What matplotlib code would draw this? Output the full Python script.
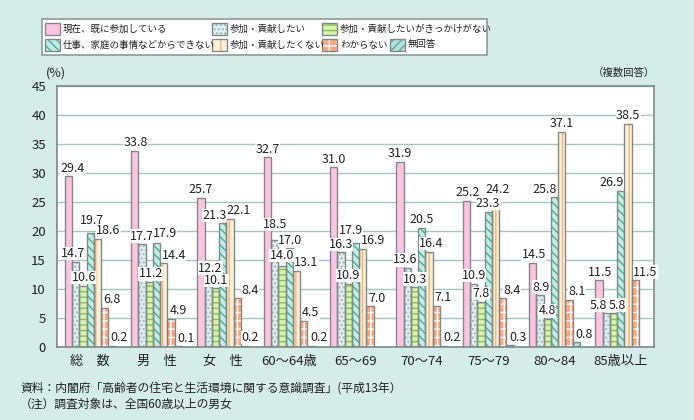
import numpy as np
import matplotlib
matplotlib.use('Agg')
import matplotlib.pyplot as plt
from matplotlib.patches import Rectangle

plt.rcParams['font.family'] = ['Noto Sans CJK JP', 'DejaVu Sans']
plt.rcParams['hatch.linewidth'] = 1.0

# ---- data ----
groups = ['総　数', '男　性', '女　性', '60～64歳', '65～69', '70～74', '75～79', '80～84', '85歳以上']
series_names = ['現在、既に参加している', '参加・貢献したい', '参加・貢献したいがきっかけがない',
                '仕事、家庭の事情などからできない', '参加・貢献したくない', 'わからない', '無回答']
already = [29.4, 33.8, 25.7, 32.7, 31.0, 31.9, 25.2, 14.5, 11.5]
want = [14.7, 17.7, 12.2, 18.5, 16.3, 13.6, 10.9, 8.9, 5.8]
no_chance = [10.6, 11.2, 10.1, 14.0, 10.9, 10.3, 7.8, 4.8, 5.8]
cannot = [19.7, 17.9, 21.3, 17.0, 17.9, 20.5, 23.3, 25.8, 26.9]
dont_want = [18.6, 14.4, 22.1, 13.1, 16.9, 16.4, 24.2, 37.1, 38.5]
dont_know = [6.8, 4.9, 8.4, 4.5, 7.0, 7.1, 8.4, 8.1, 11.5]
no_answer = [0.2, 0.1, 0.2, 0.2, np.nan, 0.2, 0.3, 0.8, np.nan]
values = [already, want, no_chance, cannot, dont_want, dont_know, no_answer]

# horizontal nudge of each value label in pixels (group x series), as in the original
label_dx = [
    [4.5, -2.5, 1, 1.5, 11, 7, 7],
    [1, 0, 1.5, 8, 10, 7, 8],
    [0, 2, 1, -8, 8.5, 13, 5],
    [0, 1, 0, 1, 10, 7, 8],
    [0, 0, 0, -5, 10, 7, 0],
    [0, -2, 1, 0, 2, 6.5, 8],
    [1, 0, 0, 0, 2, 9, 8],
    [1, 1, 0, -10, 0, 7.5, 7.5],
    [1, -7.5, 4, -9, 0, 10, 0],
]
# a few labels sit higher to clear their neighbours (group, series): pixels
label_dy = {(0, 3): 4, (1, 3): 2, (3, 1): 7, (3, 2): 2, (4, 3): 5, (6, 4): 9}

# face color, hatch, hatch color
styles = [
    ('#ffc4e0', '', '#ffc4e0'),
    ('#e0eeee', '....', '#98b8b8'),
    ('#d8f2b0', '---', '#88c058'),
    ('#c4ece2', '\\\\\\\\', '#48ac9c'),
    ('#fff0dc', '||', '#ffb070'),
    ('#ffa880', '++', '#ffffff'),
    ('#b8e0dc', '////', '#60a8a0'),
]
edge = '#808888'
bg = '#d5ede8'

W, H = 694, 420
fig = plt.figure(figsize=(W / 100, H / 100), dpi=100, facecolor=bg)
ax = fig.add_axes([57 / W, 1 - 347 / H, 597 / W, 261 / H])
ax.set_facecolor('white')

x = np.arange(len(groups))
bw = 0.11
for i, (vals, (fc, hatch, hc)) in enumerate(zip(values, styles)):
    pos = x + (i - 3) * bw
    v = np.array(vals, dtype=float)
    ax.bar(pos, v, bw, color=fc, hatch=hatch, edgecolor=hc, linewidth=0, zorder=2)
    ax.bar(pos, v, bw, fill=False, edgecolor=edge, linewidth=1.0, zorder=3)
    for g, (px, val) in enumerate(zip(pos, v)):
        if np.isnan(val):
            continue
        dy = 1.2 + label_dy.get((g, i), 0) * 0.72
        ax.annotate(f'{val:.1f}', (px, val), xytext=(label_dx[g][i] * 0.72, dy),
                    textcoords='offset points', ha='center', va='bottom',
                    fontsize=9, color='#202020', zorder=4,
                    bbox=dict(facecolor='white', edgecolor='none', pad=0.2))

ax.set_xlim(-0.5, len(groups) - 0.5)
ax.set_ylim(0, 45)
ax.set_yticks(np.arange(0, 46, 5))
ax.set_xticks(x)
ax.set_xticklabels(groups, fontsize=9.5)
ax.tick_params(axis='both', length=0, labelsize=9.5, colors='#202020')
ax.tick_params(axis='x', pad=6)
ax.tick_params(axis='y', pad=8)
ax.yaxis.grid(True, color='#a8c4c0', linewidth=1.0, zorder=0)
ax.set_axisbelow(True)
for s in ax.spines.values():
    s.set_color('#808888')
    s.set_linewidth(1.2)

fig.text(56 / W, 1 - 73 / H, '(%)', ha='center', va='center', fontsize=9, color='#202020')
fig.text(655 / W, 1 - 73 / H, '（複数回答）', ha='right', va='center', fontsize=7.5, color='#202020')

# ---- legend drawn by hand ----
def fx(p):
    return p / W

def fy(p):
    return 1 - p / H

fig.add_artist(Rectangle((fx(42), fy(55)), fx(445), 36 / H, transform=fig.transFigure,
                         facecolor='white', edgecolor='#909898', linewidth=1.2))
slots = [(45, 29), (212, 29), (322, 29), (45, 45), (212, 45), (322, 45), (390, 45)]
for (sx, sy), name, (fc, hatch, hc) in zip(slots, series_names, styles):
    fig.add_artist(Rectangle((fx(sx), fy(sy + 6)), 15 / W, 12 / H, transform=fig.transFigure,
                             facecolor=fc, hatch=hatch, edgecolor=hc, linewidth=0))
    fig.add_artist(Rectangle((fx(sx), fy(sy + 6)), 15 / W, 12 / H, transform=fig.transFigure,
                             fill=False, edgecolor=edge, linewidth=1.0))
    fig.text(fx(sx + 18), fy(sy), name, ha='left', va='center', fontsize=6.8, color='#202020')

fig.text(20 / W, 1 - 388 / H, '資料：内閣府「高齢者の住宅と生活環境に関する意識調査」(平成13年）',
         ha='left', va='center', fontsize=8.5, color='#202020')
fig.text(20 / W, 1 - 404 / H, '（注）調査対象は、全国60歳以上の男女',
         ha='left', va='center', fontsize=8.5, color='#202020')

fig.savefig('out.png', dpi=100, facecolor=bg)
